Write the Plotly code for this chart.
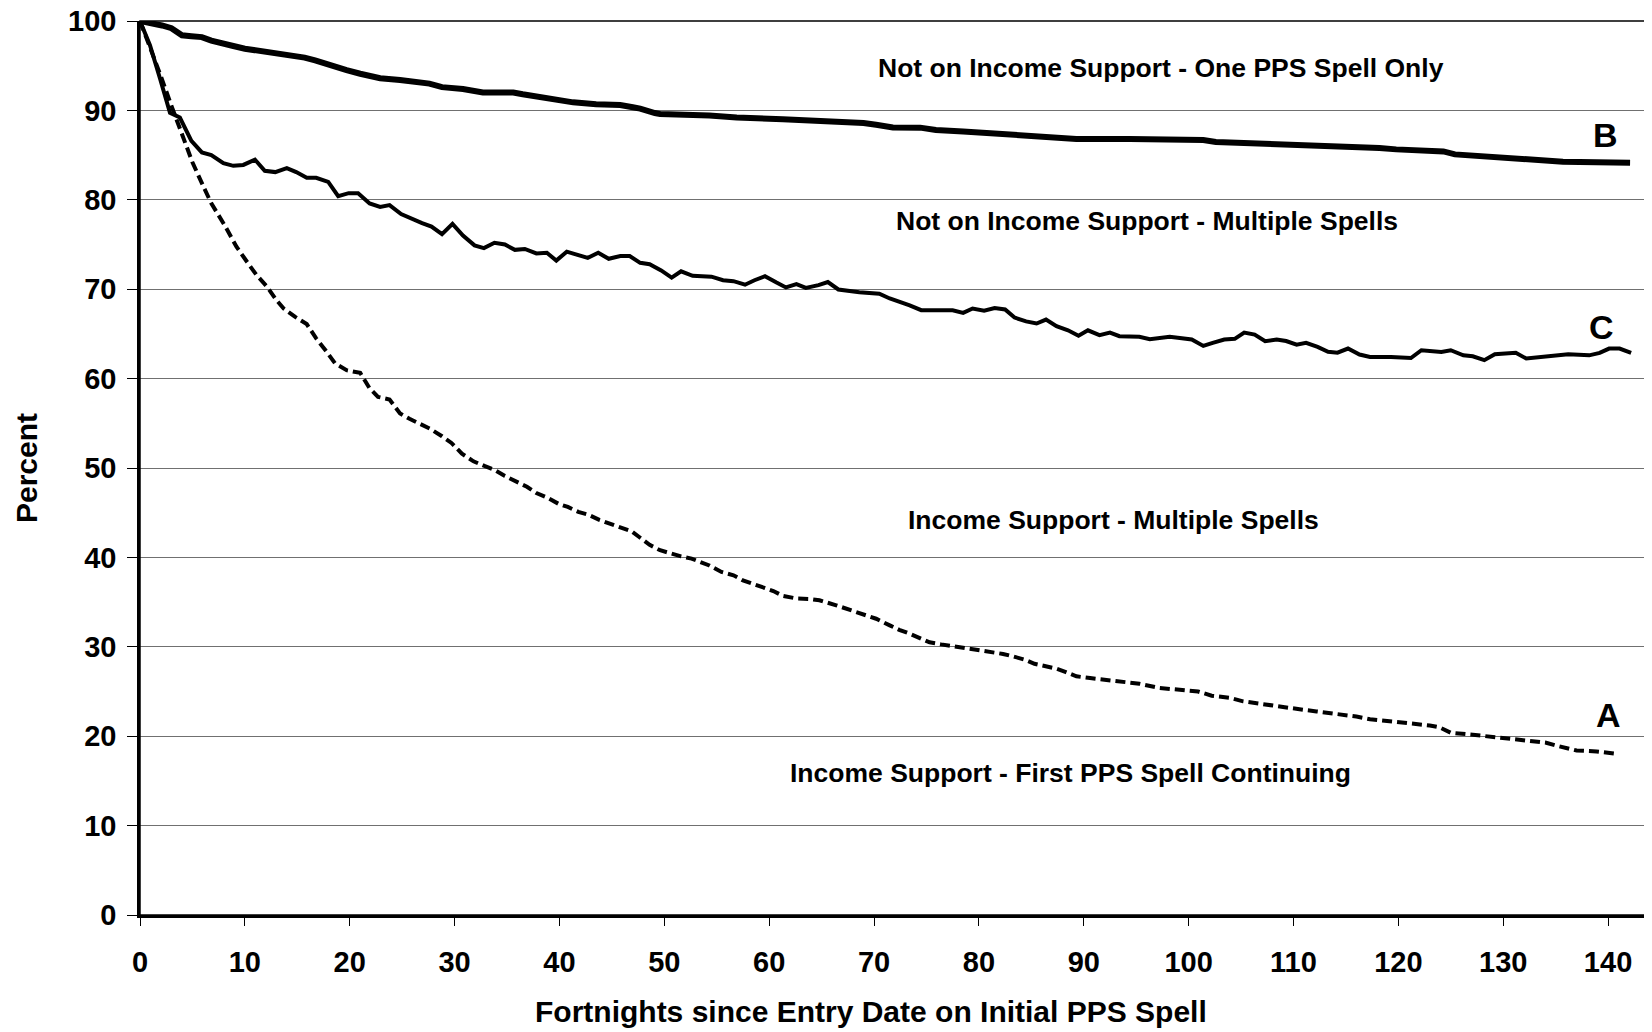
import plotly.graph_objects as go

# Curve B: Not on Income Support - One PPS Spell Only
b_x = [0, 1.0, 2.1, 3.0, 4.0, 4.9, 5.9, 6.8, 7.9, 8.9, 10.0, 11.9, 13.0, 14.0, 15.7, 16.7,
       17.9, 19.7, 21.0, 21.9, 22.9, 24.8, 27.6, 28.8, 30.8, 32.7, 35.6, 36.5, 39.7, 41.3,
       43.5, 45.8, 47.0, 47.7, 49.1, 49.6, 54.3, 56.9, 61.3, 66.4, 69.0, 70.2, 71.8, 74.4,
       75.9, 78.5, 81.7, 84.8, 89.3, 94.4, 101.4, 102.6, 109.6, 110.9, 118.2, 119.8, 124.3,
       125.4, 132.5, 135.7, 142.1]
b_y = [100, 99.8, 99.5, 99.2, 98.4, 98.3, 98.2, 97.8, 97.4, 97.2, 96.9, 96.6, 96.3, 96.1, 95.9, 95.6,
       95.1, 94.5, 94.1, 93.8, 93.6, 93.4, 93.0, 92.6, 92.4, 92.0, 92.0, 91.8, 91.1, 90.9,
       90.7, 90.6, 90.35, 90.2, 89.7, 89.6, 89.44, 89.2, 89.0, 88.8, 88.6, 88.4, 88.1, 88.07,
       87.8, 87.65, 87.4, 87.06, 86.8, 86.8, 86.68, 86.46, 86.23, 86.05, 85.79, 85.64, 85.41,
       85.08, 84.63, 84.26, 84.15]

# Curve C: Not on Income Support - Multiple Spells
c_x = [0, 0.95, 1.9, 2.86, 3.8, 4.9, 5.9, 6.8, 7.95, 8.9, 9.85, 10.96, 11.9, 12.9, 14.0, 14.9,
       15.9, 16.8, 17.95, 18.9, 19.9, 20.8, 21.9, 22.9, 23.8, 24.9, 26.9, 27.8, 28.8, 29.8,
       30.8, 31.9, 32.8, 33.8, 34.8, 35.75, 36.7, 37.8, 38.8, 39.7, 40.7, 41.8, 42.7, 43.7,
       44.7, 45.8, 46.7, 47.7, 48.6, 49.7, 50.7, 51.6, 52.7, 54.5, 55.6, 56.6, 57.7, 58.6,
       59.6, 60.7, 61.6, 62.6, 63.5, 64.7, 65.6, 66.6, 68.6, 70.5, 71.5, 73.4, 74.5, 77.5,
       78.5, 79.4, 80.5, 81.5, 82.5, 83.4, 84.5, 85.5, 86.4, 87.4, 88.5, 89.5, 90.4, 91.5,
       92.5, 93.4, 94.4, 95.3, 96.3, 98.2, 100.3, 101.4, 102.3, 103.4, 104.4, 105.3, 106.3,
       107.3, 108.4, 109.3, 110.3, 111.2, 112.3, 113.3, 114.2, 115.2, 116.3, 117.3, 119.3,
       121.2, 122.2, 124.1, 125.0, 126.2, 127.1, 128.2, 129.2, 131.2, 132.2, 134.1, 136.2,
       138.2, 139.2, 140.1, 141.1, 142.2]
c_y = [100, 97.3, 93.6, 89.74, 89.2, 86.6, 85.3, 85.0, 84.1, 83.8, 83.9, 84.5, 83.25, 83.1, 83.55, 83.1,
       82.46, 82.46, 82.0, 80.4, 80.74, 80.74, 79.6, 79.2, 79.4, 78.4, 77.4, 77.0, 76.15, 77.3,
       76.0, 74.9, 74.6, 75.2, 75.0, 74.4, 74.5, 74.0, 74.07, 73.2, 74.2, 73.8, 73.5, 74.07,
       73.4, 73.7, 73.7, 72.95, 72.8, 72.1, 71.3, 72.0, 71.5, 71.4, 71.0, 70.9, 70.5, 71.0,
       71.46, 70.75, 70.2, 70.56, 70.15, 70.45, 70.8, 69.97, 69.67, 69.5, 68.96, 68.2, 67.65, 67.65,
       67.35, 67.84, 67.6, 67.9, 67.73, 66.83, 66.4, 66.16, 66.6, 65.86, 65.4, 64.8, 65.4, 64.86,
       65.15, 64.74, 64.74, 64.67, 64.4, 64.67, 64.37, 63.66, 64.0, 64.37, 64.45, 65.15, 64.93,
       64.18, 64.37, 64.2, 63.8, 64.0, 63.55, 63.0, 62.9, 63.36, 62.69, 62.43, 62.43,
       62.3, 63.17, 62.99, 63.17, 62.6, 62.5, 62.06, 62.73, 62.88, 62.24, 62.5, 62.73,
       62.6, 62.88, 63.36, 63.36, 62.88]

# Curve A: Income Support - First PPS Spell Continuing
a_x = [0, 1.0, 2.0, 3.0, 4.0, 5.0, 6.0, 6.8, 8.1, 9.2, 10.2, 11.1, 12.1, 13.0, 13.7, 14.8,
       15.9, 16.8, 17.8, 18.6, 19.7, 21.0, 21.9, 22.7, 23.8, 24.8, 25.7, 26.7, 27.65, 28.8,
       29.7, 30.7, 31.8, 32.9, 33.8, 34.8, 35.9, 36.9, 37.8, 38.8, 39.9, 40.8, 41.8, 42.7,
       43.8, 44.8, 45.9, 46.9, 47.7, 48.6, 49.6, 50.7, 51.6, 52.6, 53.5, 54.3, 55.45, 56.6,
       57.5, 58.5, 59.4, 60.4, 61.3, 62.6, 63.9, 64.8, 66.4, 67.7, 69.0, 70.2, 71.5, 72.4,
       73.4, 74.35, 75.3, 76.4, 77.5, 78.5, 79.4, 80.4, 81.35, 82.3, 83.25, 84.4, 85.3, 86.3,
       87.4, 88.3, 89.3, 90.6, 91.8, 93.1, 94.4, 95.3, 97.2, 99.1, 100.9, 102.2, 103.9, 105.2,
       107.1, 109.3, 110.9, 112.2, 114.1, 116.0, 117.3, 119.2, 121.1, 123.0, 123.9, 125.0,
       127.1, 129.0, 131.2, 133.1, 134.1, 135.0, 136.0, 137.0, 138.9, 140.8]
a_y = [100, 97.0, 93.8, 90.5, 87.3, 84.2, 81.6, 79.6, 77.1, 74.75, 73.07, 71.6, 70.3, 68.8, 67.84, 66.9,
       66.1, 64.5, 63.0, 61.7, 60.94, 60.64, 58.9, 57.96, 57.66, 56.1, 55.5, 54.97, 54.4, 53.55,
       52.8, 51.6, 50.75, 50.2, 49.8, 49.1, 48.44, 47.9, 47.2, 46.7, 46.0, 45.64, 45.1, 44.8,
       44.2, 43.8, 43.3, 42.9, 42.2, 41.4, 40.8, 40.4, 40.12, 39.86, 39.5, 39.1, 38.37, 38.0,
       37.43, 37.0, 36.6, 36.24, 35.7, 35.4, 35.35, 35.2, 34.64, 34.15, 33.7, 33.14, 32.4, 31.9,
       31.47, 31.0, 30.5, 30.27, 30.08, 29.9, 29.78, 29.6, 29.34, 29.2, 28.93, 28.55, 28.1, 27.85,
       27.55, 27.17, 26.7, 26.5, 26.35, 26.1, 26.0, 25.87, 25.4, 25.2, 25.0, 24.53, 24.3, 23.9,
       23.56, 23.26, 22.96, 22.77, 22.5, 22.2, 21.9, 21.7, 21.4, 21.2, 21.0, 20.39,
       20.16, 19.9, 19.7, 19.45, 19.27, 18.97, 18.67, 18.4, 18.3, 18.04]

x_ticks = list(range(0, 141, 10))
y_ticks = list(range(0, 101, 10))

labels = [
    ("Not on Income Support - One PPS Spell Only", 97.4, 94.7, 26.5),
    ("B", 139.8, 87.3, 34),
    ("Not on Income Support - Multiple Spells", 96.0, 77.6, 26.5),
    ("C", 139.4, 65.8, 34),
    ("Income Support - Multiple Spells", 92.8, 44.2, 26.5),
    ("A", 140.0, 22.4, 34),
    ("Income Support - First PPS Spell Continuing", 88.7, 15.9, 26.5),
]

x_title = "Fortnights since Entry Date on Initial PPS Spell"
y_title = "Percent"

FONT = "Liberation Sans, Arial, sans-serif"

# the page body adds an 8px offset, so the figure is sized to fit inside the window
W, H = 1644, 1024
L, R, T, B = 132, 2, 13, 117
pw, ph = W - L - R, H - T - B

fig = go.Figure()
fig.add_trace(go.Scatter(x=a_x, y=a_y, mode="lines",
                         line=dict(color="black", width=4, dash="10px,5px"),
                         name="A"))
fig.add_trace(go.Scatter(x=c_x, y=c_y, mode="lines",
                         line=dict(color="black", width=4), name="C"))
fig.add_trace(go.Scatter(x=b_x, y=b_y, mode="lines",
                         line=dict(color="black", width=6), name="B"))

for text, x, y, size in labels:
    fig.add_annotation(x=x, y=y, xref="x", yref="y", text=text, showarrow=False,
                       font=dict(family=FONT, size=size, color="black", weight="bold"),
                       xanchor="center", yanchor="middle")

# axis titles (positioned in pixels, converted to paper coords)
fig.add_annotation(x=(863 - L) / pw, y=(H - B - 1003) / ph, xref="paper", yref="paper",
                   text=x_title, showarrow=False, xanchor="center", yanchor="middle",
                   font=dict(family=FONT, size=30, color="black", weight="bold"))
fig.add_annotation(x=(18 - L) / pw, y=0.5, xref="paper", yref="paper", text=y_title,
                   textangle=-90, showarrow=False, xanchor="center", yanchor="middle",
                   font=dict(family=FONT, size=30, color="black", weight="bold"))

fig.add_shape(type="rect", xref="paper", yref="paper", x0=0, y0=0, x1=1, y1=1,
              line=dict(color="black", width=1.5), layer="above")

fig.update_layout(
    width=W, height=H,
    margin=dict(l=L, r=R, t=T, b=B, autoexpand=False),
    plot_bgcolor="white", paper_bgcolor="white",
    showlegend=False,
    font=dict(family=FONT, color="black", weight="bold"),
)
fig.update_xaxes(
    range=[0, 144], tickvals=x_ticks, ticktext=[str(t) for t in x_ticks],
    showgrid=False, zeroline=False, automargin=False,
    showline=True, linecolor="black", linewidth=2.5,
    ticks="outside", ticklen=8, tickwidth=1.2, tickcolor="black",
    ticklabelstandoff=11, ticklabeloverflow="allow",
    tickfont=dict(family=FONT, size=29, color="black", weight="bold"),
)
fig.update_yaxes(
    range=[0, 100], tickvals=y_ticks, ticktext=[str(t) for t in y_ticks],
    showgrid=True, gridcolor="#707070", gridwidth=1.3, zeroline=False, automargin=False,
    showline=True, linecolor="black", linewidth=2.5,
    ticks="outside", ticklen=10, tickwidth=1.2, tickcolor="black",
    ticklabelstandoff=5, ticklabeloverflow="allow",
    tickfont=dict(family=FONT, size=29, color="black", weight="bold"),
)

fig.write_html("out.html")
